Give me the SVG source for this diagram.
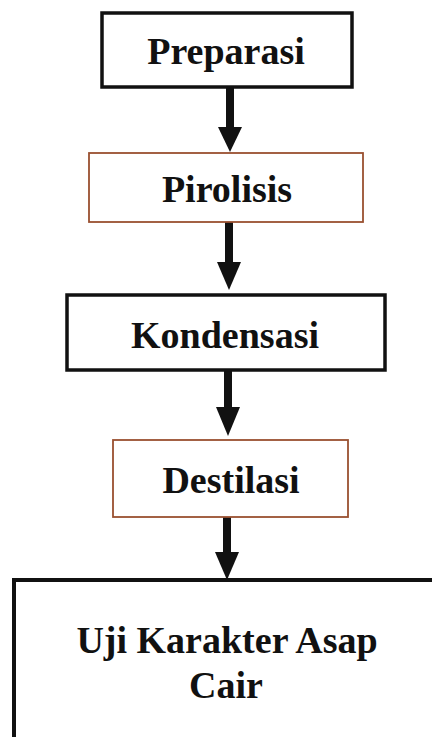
<svg xmlns="http://www.w3.org/2000/svg" width="432" height="737" viewBox="0 0 432 737">
<style>
.bk{fill:#fff;stroke:#111;stroke-width:3.5}
.br{fill:#fff;stroke:#9a5030;stroke-width:1.8}
.t{font-family:"Liberation Serif","Times New Roman",serif;font-weight:bold;font-size:38px;fill:#111;text-anchor:middle}
.sh{stroke:#111;stroke-width:8;fill:none}
.hd{fill:#111}
</style>
<rect width="432" height="737" fill="#fff"/>
<g id="connectors">
<line class="sh" x1="230" y1="87" x2="230" y2="130"/><polygon class="hd" points="218,127 242,127 230,152"/>
<line class="sh" x1="229" y1="222" x2="229" y2="265"/><polygon class="hd" points="217,262 241,262 229,290"/>
<line class="sh" x1="228" y1="371" x2="228" y2="410"/><polygon class="hd" points="216,407 240,407 228,436"/>
<line class="sh" x1="227" y1="517" x2="227" y2="555"/><polygon class="hd" points="215,552 239,552 227,580"/>
</g>
<g id="preparasi"><rect class="bk" x="102" y="13" width="250" height="74"/><text class="t" x="226" y="64">Preparasi</text></g>
<g id="pirolisis"><rect class="br" x="89" y="153" width="274" height="69"/><text class="t" x="227" y="202">Pirolisis</text></g>
<g id="kondensasi"><rect class="bk" x="67" y="295" width="318" height="75"/><text class="t" x="225" y="348">Kondensasi</text></g>
<g id="destilasi"><rect class="br" x="113" y="440" width="235" height="77"/><text class="t" x="231" y="493">Destilasi</text></g>
<g id="uji"><rect class="bk" x="14" y="580" width="440" height="180" style="stroke-width:4"/><text class="t" x="227" y="653">Uji Karakter Asap</text><text class="t" x="226" y="698">Cair</text></g>
</svg>
